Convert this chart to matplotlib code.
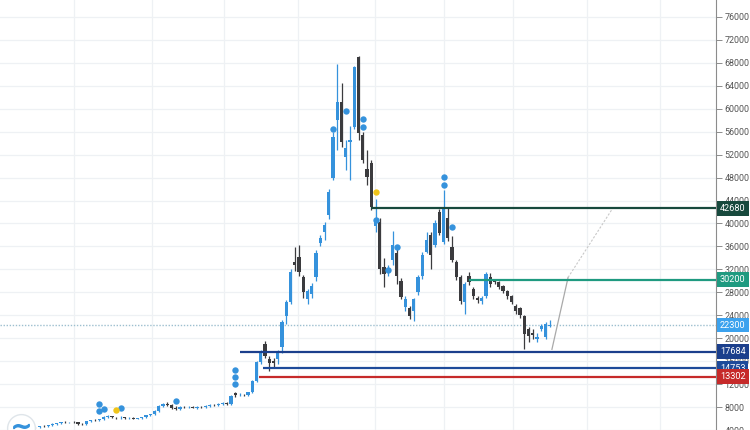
import matplotlib
matplotlib.use('Agg')
import matplotlib.pyplot as plt
import matplotlib.transforms as mtransforms
import numpy as np

# weekly candles
opens = [4200, 4310, 4490, 4450, 4660, 4620, 4830, 5010, 5180, 5360,
         5330, 5380, 5360, 5010, 4980, 5530, 5700, 5680, 5880, 6230,
         6400, 6230, 6200, 6250, 6050, 6080, 6000, 6050, 6230, 6580,
         6750, 7270, 8140, 8490, 8320, 7800, 7620, 7970, 7950, 7970,
         7900, 7970, 7950, 8140, 8320, 8300, 8490, 8660, 8490, 10400,
         10050, 10100, 10050, 10580, 12490, 15800, 18930, 16320, 15980, 16320,
         18500, 23800, 26240, 33200, 34240, 30590, 26760, 27630, 30590, 36670,
         38590, 41550, 47990, 58080, 61210, 51640, 54250, 56860, 69000, 55470,
         49550, 50600, 39630, 40330, 32500, 31630, 33720, 34940, 29890, 25370,
         25200, 24670, 27980, 30760, 35110, 38070, 36330, 42070, 36850, 41030,
         35980, 33200, 30590, 26240, 30930, 28500, 26930, 26410, 27280, 30590,
         29890, 29720, 29020, 28150, 27280, 25540, 25200, 23800, 21540, 20840,
         19800, 21540, 20150, 22200]
highs = [4450, 4600, 4600, 4750, 4800, 4950, 5150, 5300, 5450, 5500,
         5450, 5550, 5450, 5150, 5650, 5800, 5850, 6000, 6450, 6600,
         6500, 6350, 6400, 6350, 6200, 6200, 6150, 6300, 6650, 6850,
         7400, 8300, 8700, 8900, 8500, 8100, 8100, 8200, 8150, 8150,
         8100, 8200, 8300, 8450, 8500, 8650, 8850, 8800, 10100, 10700,
         10400, 10350, 10700, 12700, 16000, 18000, 19450, 16840, 16500, 17900,
         23200, 26600, 32000, 35980, 36330, 31000, 28600, 29700, 35300, 38000,
         40200, 46000, 56000, 67820, 64520, 54600, 57030, 67500, 69210, 56000,
         52860, 51000, 44330, 41000, 34060, 32800, 38760, 36000, 30500, 27300,
         25700, 27000, 31000, 35000, 38600, 38500, 40600, 42500, 45900, 42940,
         37800, 33600, 31000, 29800, 31630, 29000, 27300, 27300, 31630, 31300,
         30200, 30000, 29300, 28400, 27500, 26000, 25500, 24100, 21900, 21540,
         20840, 22400, 22760, 23100]
lows = [4100, 4250, 4350, 4400, 4550, 4580, 4750, 4950, 5100, 5250,
        5200, 5250, 4900, 4850, 4950, 5450, 5550, 5600, 5800, 6100,
        6050, 6000, 6000, 5950, 5900, 5900, 5850, 5950, 6150, 6450,
        6700, 7200, 8000, 8100, 7600, 7400, 7500, 7800, 7750, 7800,
        7700, 7800, 7850, 8050, 8150, 8200, 8400, 8300, 8400, 9800,
        9900, 9850, 9950, 10400, 12300, 15500, 16500, 14230, 14900, 15500,
        17500, 22500, 26000, 31800, 30800, 27000, 25900, 27000, 30000, 36000,
        37200, 40700, 47500, 52860, 53400, 49380, 47640, 56500, 54500, 50600,
        46770, 42420, 38590, 31110, 28850, 30800, 32850, 29370, 26800, 24700,
        23280, 22940, 27500, 30300, 34800, 31980, 35900, 38000, 36500, 37000,
        33300, 30200, 26000, 24150, 29200, 26900, 26200, 25900, 27000, 29000,
        29400, 28500, 27800, 26900, 25900, 24300, 23600, 18060, 19400, 19800,
        19300, 21200, 19800, 22000]
closes = [4310, 4490, 4450, 4660, 4620, 4830, 5010, 5180, 5360, 5330,
          5380, 5360, 5010, 4980, 5530, 5700, 5680, 5880, 6230, 6400,
          6230, 6200, 6250, 6050, 6080, 6000, 6050, 6230, 6580, 6750,
          7270, 8140, 8490, 8320, 7800, 7620, 7970, 7950, 7970, 7900,
          7970, 7950, 8140, 8320, 8300, 8490, 8660, 8490, 9880, 10050,
          10100, 10050, 10580, 12490, 15800, 17710, 16840, 15630, 15630, 17710,
          22760, 26240, 31630, 32850, 31630, 27980, 28150, 29190, 34940, 37550,
          39810, 45550, 55120, 61210, 54250, 53210, 54600, 67300, 55820, 51120,
          48160, 42940, 40850, 31980, 31110, 31980, 36330, 30760, 27110, 26760,
          23800, 26760, 30590, 34590, 37200, 34590, 40160, 38420, 42940, 37550,
          33720, 30590, 26410, 29370, 29720, 27280, 26590, 26930, 31110, 29370,
          29720, 28850, 28150, 27280, 26240, 24670, 23980, 20670, 20320, 20500,
          20150, 22060, 22410, 22300]

# signal dots: candle index, price
dot_idx = [17, 17, 18, 22, 35, 49, 49, 49, 72, 75, 79, 79, 82, 85, 87, 98, 98, 100]
dot_price = [8490, 7270, 7620, 7800, 9010, 14400, 13190, 11970, 56510,
             59640, 58250, 56860, 40680, 31810, 35980, 48160, 46770, 39460]
yellow_idx = [21, 82]
yellow_price = [7450, 45550]

# horizontal levels: price, start candle, colour
levels = [42680, 30200, 17684, 14753, 13302]
level_start = [81, 104, 50, 55.5, 54.5]
level_colors = ['#17493d', '#1f9a80', '#1b3f8c', '#1d4a9a', '#c62a2a']
last_price = 22300

# time grid positions (candle index of month starts shown on the chart)
grid_x = [11.1, 29.4, 46.4, 63.8, 81.9, 98.1, 114.4, 131.8, 149.0]

# projection drawing (candle index, price)
proj_x = [123.5, 127.3, 137.9]
proj_y = [18060, 30590, 42770]

up_color = '#3592dc'
down_color = '#3b3b3e'

fig = plt.figure(figsize=(7.5, 4.3), dpi=100)
ax = fig.add_axes([0, 0, 716 / 750, 1])

ax.set_xlim(-6.35, 162.1)
ax.set_ylim(4140, 78960)

# grid
for gx in grid_x:
    ax.axvline(gx, color='#eef1f4', lw=0.9, zorder=0)
yticks = np.arange(4000, 80000, 4000)
for gy in yticks:
    ax.axhline(gy, color='#eef1f4', lw=0.9, zorder=0)

# candles
idx = np.arange(len(closes))
o = np.array(opens)
c = np.array(closes)
h = np.array(highs)
l = np.array(lows)
up = c >= o
cols = np.where(up, up_color, down_color)
ax.vlines(idx, l, h, colors=cols, lw=0.9, zorder=3)
body_lo = np.minimum(o, c)
body_h = np.maximum(np.abs(c - o), 120)
ax.bar(idx, body_h, bottom=body_lo, width=0.74, color=cols, lw=0, zorder=4)

# dots
ax.plot(dot_idx, dot_price, 'o', ms=4.6, color='#3592dc', mec='none', ls='none', zorder=5)
ax.plot(yellow_idx, yellow_price, 'o', ms=4.6, color='#f0c419', mec='none', ls='none', zorder=5)

# levels
xr = ax.get_xlim()[1]
for lv, st, col in zip(levels, level_start, level_colors):
    ax.hlines(lv, st, xr, colors=col, lw=1.6, zorder=6)
ax.axhline(last_price, color='#9dbfcf', lw=1.0, ls=(0, (1, 1.2)), zorder=2)

# projection
ax.plot(proj_x[:2], proj_y[:2], color='#a9a9a9', lw=0.9, zorder=2)
ax.plot(proj_x[1:], proj_y[1:], color='#c8c8c8', lw=0.8, ls=(0, (2, 1.5)), zorder=2)

# axis styling
for s in ['top', 'left', 'bottom']:
    ax.spines[s].set_visible(False)
ax.spines['right'].set_color('#8c8c8c')
ax.spines['right'].set_linewidth(0.8)
ax.set_xticks([])
ax.yaxis.tick_right()
ax.set_yticks(yticks)
ax.set_yticklabels([str(v) for v in yticks])
ax.tick_params(axis='y', direction='out', length=4, width=0.7, color='#8c8c8c',
               labelsize=6.4, labelcolor='#555555', pad=2)
for t in ax.get_yticklabels():
    t.set_fontfamily('Roboto')

# price labels on the axis
trans = mtransforms.blended_transform_factory(ax.transAxes, ax.transData)
box_levels = levels + [last_price]
box_colors = level_colors + ['#3ca2ee']
for lv, col in zip(box_levels, box_colors):
    ax.text(1.0 + 4 / 716, lv, str(lv), transform=trans, ha='left', va='center',
            fontsize=6.6, color='white', family='Roboto', zorder=10, clip_on=False,
            bbox=dict(boxstyle='square,pad=0.32', fc=col, ec='none'))

# logo
ax.plot([0.029], [0.005], marker='o', ms=20, mfc='white', mec='#dfe5ea', mew=1,
        transform=ax.transAxes, clip_on=False, zorder=7)
ax.plot([0.029], [0.01], marker='$\\sim$', ms=11, color='#3592dc',
        transform=ax.transAxes, clip_on=False, zorder=8)

fig.savefig('out.png', dpi=100, facecolor='white')
